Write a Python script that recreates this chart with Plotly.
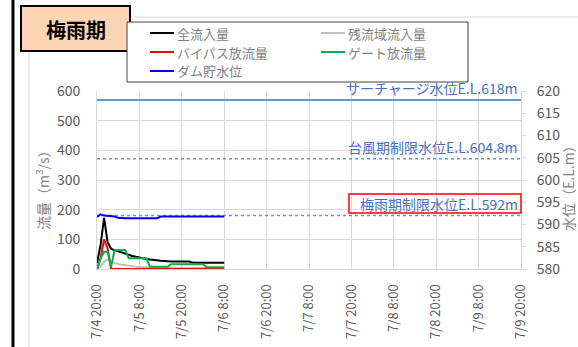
import plotly.graph_objects as go

# Hourly observations, 7/4 20:00 - 7/6 8:00
times = [f"2023-07-{4 + (20 + h) // 24:02d} {(20 + h) % 24:02d}:00" for h in range(37)]

total_inflow = [20, 80, 172, 90, 68, 64, 60, 55, 50, 47, 44, 41, 38, 36, 34, 32, 30, 28, 28,
                27, 25, 25, 25, 25, 25, 25, 25, 22, 21, 21, 21, 21, 21, 21, 21, 21, 21]
residual_inflow = [0, 8, 25, 32, 25, 20, 17, 14, 12, 10, 9, 8, 7, 7, 6, 6, 6, 5, 5,
                   5, 4, 4, 4, 4, 4, 3, 3, 3, 3, 3, 3, 3, 3, 3, 3, 3, 3]
bypass_release = [0, 35, 100, 70, 0, 0, 0, 0, 0, 0, 0, 0, 0, 0, 0, 0, 0, 0, 0,
                  0, 0, 0, 0, 0, 0, 0, 0, 0, 0, 0, 0, 0, 0, 0, 0, 0, 0]
gate_release = [0, 35, 58, 58, 8, 64, 64, 64, 64, 36, 36, 36, 36, 36, 36, 8, 8, 8, 8,
                8, 8, 16, 16, 16, 16, 16, 16, 16, 16, 16, 16, 6, 6, 6, 6, 6, 6]
dam_level = [591.7, 592.3, 592.0, 591.9, 591.9, 591.8, 591.5, 591.4, 591.4, 591.4, 591.4,
             591.4, 591.4, 591.4, 591.4, 591.4, 591.4, 591.4, 591.8, 591.8, 591.8, 591.8,
             591.8, 591.8, 591.8, 591.8, 591.8, 591.8, 591.8, 591.8, 591.8, 591.8, 591.8,
             591.8, 591.8, 591.8, 591.8]

x_start, x_end = "2023-07-04 20:00", "2023-07-09 20:00"

# Reference water levels (E.L. m)
ref_names = ["サーチャージ水位E.L.618m", "台風期制限水位E.L.604.8m", "梅雨期制限水位E.L.592m"]
ref_levels = [618, 604.8, 592]
ref_dashes = ["solid", "dash", "dash"]

flow_names = ["全流入量", "残流域流入量", "バイパス放流量", "ゲート放流量"]
colors = {"全流入量": "#000000", "残流域流入量": "#BFBFBF", "バイパス放流量": "#FF0000",
          "ゲート放流量": "#00B050", "ダム貯水位": "#0000FF"}

FONT = "Noto Sans CJK JP"
TXT = "#595959"

# plot area in pixels
L, R, T, B = 97, 521, 91, 269
W, H = 578, 347


def px(x):
    return (x - L) / (R - L)


def py(y):
    return (B - y) / (B - T)


fig = go.Figure()

for name, lvl, dash in zip(ref_names, ref_levels, ref_dashes):
    fig.add_trace(go.Scatter(x=[x_start, x_end], y=[lvl, lvl], mode="lines", yaxis="y2",
                             line=dict(color="#5B9BD5", width=2 if dash == "solid" else 1.5,
                                       dash="solid" if dash == "solid" else "3px,3px"),
                             showlegend=False, hoverinfo="skip"))

for name, vals in zip(flow_names, [total_inflow, residual_inflow, bypass_release, gate_release]):
    fig.add_trace(go.Scatter(x=times, y=vals, mode="lines", name=name,
                             line=dict(color=colors[name], width=2), showlegend=False))

fig.add_trace(go.Scatter(x=times, y=dam_level, mode="lines", name="ダム貯水位", yaxis="y2",
                         line=dict(color=colors["ダム貯水位"], width=2), showlegend=False))

shapes = []
annotations = []

# outer frame details
shapes.append(dict(type="line", xref="paper", yref="paper", x0=px(13), x1=px(13), y0=py(0), y1=py(W),
                   line=dict(color="#000000", width=3)))
shapes.append(dict(type="line", xref="paper", yref="paper", x0=px(29), x1=px(29), y0=py(17), y1=py(W),
                   line=dict(color="#D9D9D9", width=1)))
shapes.append(dict(type="line", xref="paper", yref="paper", x0=px(29), x1=px(W), y0=py(17), y1=py(17),
                   line=dict(color="#D9D9D9", width=1)))

# season badge
shapes.append(dict(type="rect", xref="paper", yref="paper", x0=px(21), x1=px(130), y0=py(51), y1=py(6),
                   fillcolor="#FCD5B4", line=dict(color="#000000", width=2)))
annotations.append(dict(text="<b>梅雨期</b>", xref="paper", yref="paper", x=px(75.5), y=py(29),
                        showarrow=False, font=dict(family=FONT, size=20, color="#000000"),
                        xanchor="center", yanchor="middle"))

# legend box
shapes.append(dict(type="rect", xref="paper", yref="paper", x0=px(127), x1=px(468), y0=py(82), y1=py(22),
                   fillcolor="#FFFFFF", line=dict(color="#404040", width=1)))
legend_items = [("全流入量", 150, 33), ("残流域流入量", 321, 33), ("バイパス放流量", 150, 52),
                ("ゲート放流量", 321, 52), ("ダム貯水位", 150, 71)]
for name, lx, ly in legend_items:
    shapes.append(dict(type="line", xref="paper", yref="paper", x0=px(lx), x1=px(lx + 24),
                       y0=py(ly), y1=py(ly), line=dict(color=colors[name], width=2)))
    annotations.append(dict(text=name, xref="paper", yref="paper", x=px(lx + 25), y=py(ly),
                            showarrow=False, xanchor="left", yanchor="middle",
                            font=dict(family=FONT, size=13, color="#7F7F7F")))

# reference level labels
for name, lvl in zip(ref_names, ref_levels):
    annotations.append(dict(text=name, xref="paper", yref="y2", x=px(520), y=lvl, yshift=0,
                            showarrow=False, xanchor="right", yanchor="bottom",
                            font=dict(family=FONT, size=14, color="#4472C4")))
shapes.append(dict(type="rect", xref="paper", yref="paper", x0=px(349), x1=px(521), y0=py(213), y1=py(194),
                   line=dict(color="#FF0000", width=1.5)))

# axis titles
annotations.append(dict(text="流量（m<sup>3</sup>/s）", xref="paper", yref="paper", x=px(42), y=py(187),
                        textangle=-90, showarrow=False, xanchor="center", yanchor="middle",
                        font=dict(family=FONT, size=14, color="#808080")))
annotations.append(dict(text="水位（E.L.m）", xref="paper", yref="paper", x=px(568), y=py(185),
                        textangle=-90, showarrow=False, xanchor="center", yanchor="middle",
                        font=dict(family=FONT, size=14, color="#808080")))

fig.update_layout(
    width=W, height=H,
    margin=dict(l=L, r=W - R, t=T, b=H - B, pad=0, autoexpand=False),
    paper_bgcolor="#FFFFFF", plot_bgcolor="#FFFFFF",
    font=dict(family=FONT, color=TXT),
    showlegend=False,
    xaxis=dict(type="date", range=[x_start, x_end], tick0=x_start, dtick=12 * 3600 * 1000,
               tickformat="%-m/%-d %-H:%M", tickangle=-90, showgrid=True, gridcolor="#D9D9D9",
               gridwidth=1, showline=True, linecolor="#D9D9D9", ticks="", zeroline=False,
               ticklabelstandoff=9, automargin=False,
               tickfont=dict(family=FONT, size=13, color=TXT)),
    yaxis=dict(range=[0, 600], dtick=100, showgrid=True, gridcolor="#D9D9D9", gridwidth=1,
               showline=True, linecolor="#D9D9D9", ticks="", zeroline=False,
               ticklabelstandoff=13, automargin=False,
               tickfont=dict(family=FONT, size=14, color=TXT)),
    yaxis2=dict(range=[580, 620], dtick=5, overlaying="y", side="right", showgrid=False,
                showline=True, linecolor="#D9D9D9", ticks="outside", ticklen=4, tickcolor="#D9D9D9",
                ticklabelstandoff=8, automargin=False,
                zeroline=False, tickfont=dict(family=FONT, size=14, color=TXT)),
    shapes=shapes,
    annotations=annotations,
)

fig.write_html("out.html")
